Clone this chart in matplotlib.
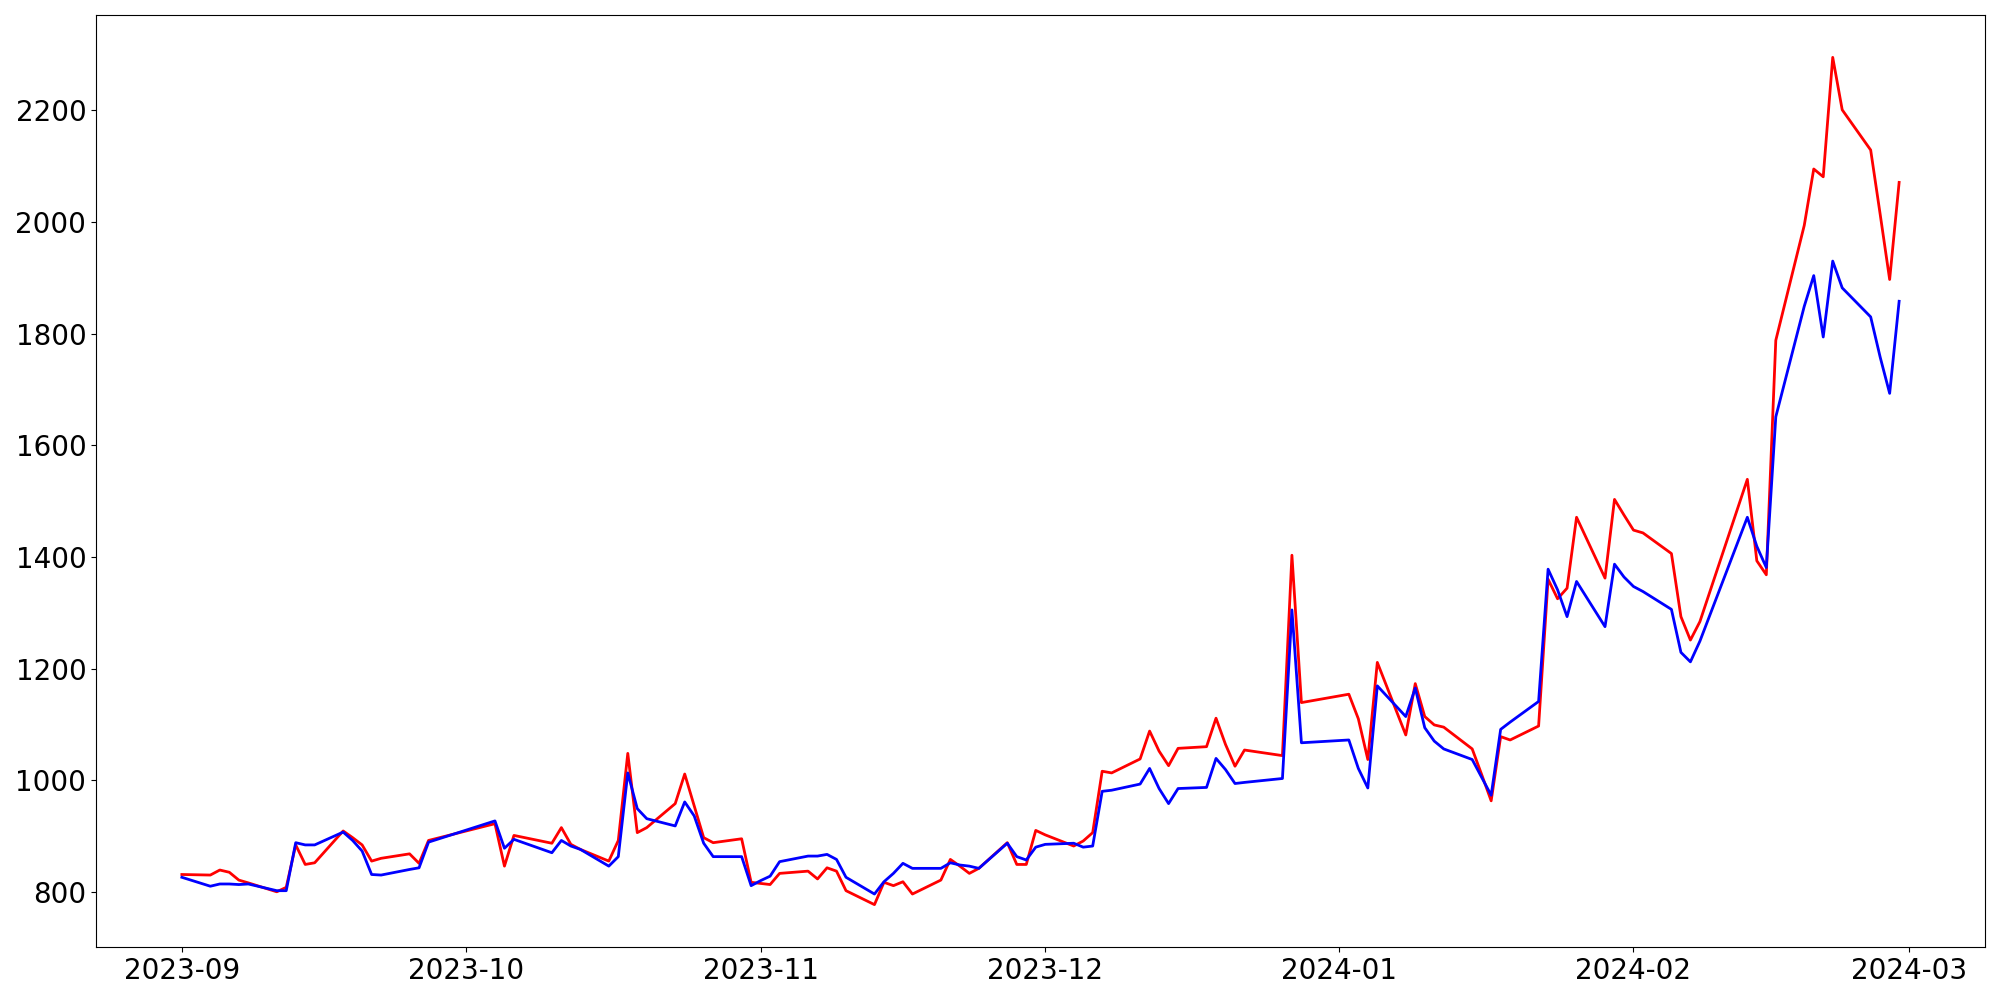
import pandas as pd
import matplotlib.pyplot as plt

# trading days (Sep 2023 - Feb 2024)
dates = [
    '2023-09-01', '2023-09-04', '2023-09-05', '2023-09-06', '2023-09-07', '2023-09-08',
    '2023-09-11', '2023-09-12', '2023-09-13', '2023-09-14', '2023-09-15',
    '2023-09-18', '2023-09-19', '2023-09-20', '2023-09-21', '2023-09-22',
    '2023-09-25', '2023-09-26', '2023-09-27',
    '2023-10-04', '2023-10-05', '2023-10-06',
    '2023-10-10', '2023-10-11', '2023-10-12', '2023-10-13',
    '2023-10-16', '2023-10-17', '2023-10-18', '2023-10-19', '2023-10-20',
    '2023-10-23', '2023-10-24', '2023-10-25', '2023-10-26', '2023-10-27',
    '2023-10-30', '2023-10-31', '2023-11-01', '2023-11-02', '2023-11-03',
    '2023-11-06', '2023-11-07', '2023-11-08', '2023-11-09', '2023-11-10',
    '2023-11-13', '2023-11-14', '2023-11-15', '2023-11-16', '2023-11-17',
    '2023-11-20', '2023-11-21', '2023-11-22', '2023-11-23', '2023-11-24',
    '2023-11-27', '2023-11-28', '2023-11-29', '2023-11-30', '2023-12-01',
    '2023-12-04', '2023-12-05', '2023-12-06', '2023-12-07', '2023-12-08',
    '2023-12-11', '2023-12-12', '2023-12-13', '2023-12-14', '2023-12-15',
    '2023-12-18', '2023-12-19', '2023-12-20', '2023-12-21', '2023-12-22',
    '2023-12-26', '2023-12-27', '2023-12-28',
    '2024-01-02', '2024-01-03', '2024-01-04', '2024-01-05',
    '2024-01-08', '2024-01-09', '2024-01-10', '2024-01-11', '2024-01-12',
    '2024-01-15', '2024-01-16', '2024-01-17', '2024-01-18', '2024-01-19',
    '2024-01-22', '2024-01-23', '2024-01-24', '2024-01-25', '2024-01-26',
    '2024-01-29', '2024-01-30', '2024-01-31', '2024-02-01', '2024-02-02',
    '2024-02-05', '2024-02-06', '2024-02-07', '2024-02-08',
    '2024-02-13', '2024-02-14', '2024-02-15', '2024-02-16',
    '2024-02-19', '2024-02-20', '2024-02-21', '2024-02-22', '2024-02-23',
    '2024-02-26', '2024-02-27', '2024-02-28', '2024-02-29',
]

red_values = [
    831, 830, 839, 835, 821, 816,
    800, 808, 884, 849, 852,
    909, 897, 884, 855, 860,
    868, 851, 892,
    922, 846, 901,
    887, 915, 885, 876,
    855, 892, 1048, 906, 915,
    958, 1011, 954, 897, 888,
    895, 817, 815, 813, 833,
    837, 823, 843, 837, 802,
    777, 817, 811, 818, 796,
    821, 858, 846, 833, 842,
    888, 849, 849, 910, 902,
    882, 891, 906, 1016, 1013,
    1038, 1088, 1052, 1026, 1057,
    1060, 1111, 1064, 1025, 1054,
    1044, 1403, 1139,
    1154, 1110, 1037, 1211,
    1081, 1173, 1114, 1099, 1095,
    1056, 1010, 963, 1078, 1072,
    1097, 1360, 1325, 1344, 1471,
    1362, 1503, 1475, 1448, 1443,
    1406, 1293, 1251, 1284,
    1539, 1393, 1368, 1788,
    1994, 2095, 2081, 2295, 2201,
    2129, 2014, 1897, 2071,
]

blue_values = [
    826, 810, 814, 814, 813, 814,
    802, 802, 888, 884, 884,
    907, 892, 873, 831, 830,
    840, 843, 889,
    927, 878, 894,
    870, 892, 882, 876,
    846, 863, 1013, 949, 931,
    918, 961, 936, 887, 863,
    863, 811, 820, 828, 854,
    864, 864, 867, 858, 826,
    796, 818, 833, 851, 842,
    842, 852, 848, 846, 842,
    887, 863, 857, 880, 885,
    887, 880, 882, 980, 982,
    993, 1021, 985, 958, 985,
    987, 1039, 1019, 994, 996,
    1003, 1305, 1067,
    1072, 1021, 986, 1169,
    1114, 1165, 1094, 1070, 1056,
    1037, 1005, 973, 1091, 1104,
    1141, 1378, 1341, 1293, 1356,
    1275, 1387, 1364, 1347, 1338,
    1306, 1229, 1212, 1249,
    1471, 1419, 1381, 1651,
    1849, 1904, 1794, 1930, 1882,
    1830, 1758, 1693, 1858,
]

x = pd.to_datetime(dates)

fig, ax = plt.subplots(figsize=(20, 10), dpi=100)
ax.plot(x, red_values, color='red', linewidth=2)
ax.plot(x, blue_values, color='blue', linewidth=2)
ax.tick_params(axis='both', labelsize=20)

plt.subplots_adjust(left=0.048, right=0.9925, top=0.985, bottom=0.053)
plt.savefig('out.png', dpi=100)
